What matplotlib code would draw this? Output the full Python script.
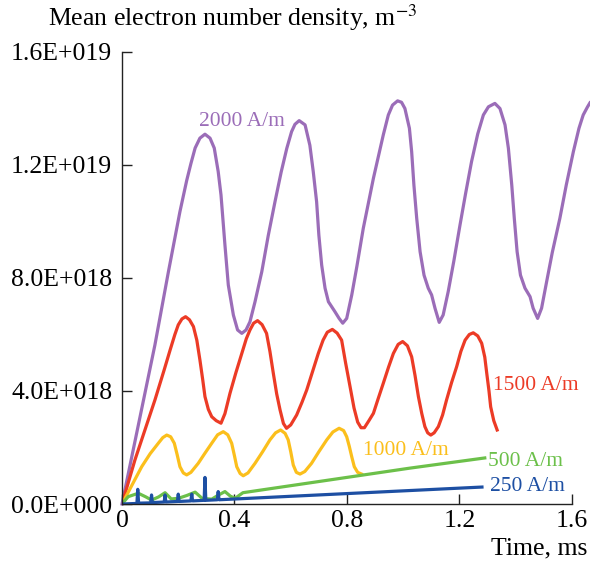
import matplotlib
matplotlib.use("Agg")
import matplotlib.pyplot as plt

plt.rcParams['font.family'] = ['Liberation Serif', 'DejaVu Serif']
plt.rcParams['mathtext.fontset'] = 'stix'

# time in ms, density in units of 1E+018 m^-3
t_2000 = [0, 0.117, 0.165, 0.206, 0.230, 0.245, 0.260, 0.277, 0.295, 0.313, 0.328, 0.342, 0.352,
          0.366, 0.378, 0.396, 0.411, 0.426, 0.441, 0.455, 0.473, 0.497, 0.520, 0.544, 0.566,
          0.586, 0.603, 0.615, 0.630, 0.651, 0.668, 0.680, 0.692, 0.700, 0.710, 0.722, 0.734,
          0.757, 0.772, 0.785, 0.799, 0.817, 0.835, 0.858, 0.894, 0.929, 0.947, 0.962, 0.980,
          0.994, 1.006, 1.022, 1.030, 1.038, 1.048, 1.060, 1.074, 1.089, 1.101, 1.113, 1.128,
          1.142, 1.160, 1.180, 1.202, 1.222, 1.243, 1.265, 1.285, 1.303, 1.326, 1.344, 1.362,
          1.374, 1.386, 1.395, 1.405, 1.417, 1.433, 1.451, 1.462, 1.478, 1.492, 1.510, 1.530,
          1.557, 1.580, 1.605, 1.625, 1.640, 1.655, 1.664]
n_2000 = [0, 5.63, 8.22, 10.35, 11.45, 12.05, 12.6, 12.95, 13.09, 12.95, 12.6, 11.77, 10.94,
          9.17, 7.75, 6.69, 6.16, 6.04, 6.16, 6.45, 7.16, 8.22, 9.5, 10.7, 11.75,
          12.59, 13.18, 13.44, 13.57, 13.42, 12.7, 11.77, 10.7, 9.52, 8.46, 7.64, 7.16,
          6.81, 6.57, 6.40, 6.57, 7.4, 8.4, 9.76, 11.53, 13.06, 13.77, 14.12, 14.27,
          14.22, 14.0, 13.3, 12.47, 11.29, 10.11, 8.93, 8.1, 7.64, 7.4, 6.93, 6.43,
          6.69, 7.52, 8.6, 9.88, 11.0, 12.12, 13.1, 13.77, 14.06, 14.18, 14.0, 13.42,
          12.59, 11.29, 10.11, 8.93, 8.1, 7.64, 7.34, 6.93, 6.57, 6.93, 7.87, 8.9,
          10.11, 11.3, 12.47, 13.3, 13.77, 14.05, 14.2]

t_1500 = [0, 0.046, 0.117, 0.150, 0.171, 0.188, 0.200, 0.213, 0.226, 0.240, 0.254, 0.266, 0.277,
          0.287, 0.295, 0.307, 0.319, 0.335, 0.352, 0.366, 0.384, 0.405, 0.426, 0.442, 0.455,
          0.468, 0.482, 0.498, 0.514, 0.526, 0.538, 0.550, 0.562, 0.574, 0.585, 0.600, 0.612,
          0.621, 0.640, 0.657, 0.678, 0.698, 0.715, 0.730, 0.748, 0.765, 0.781, 0.795, 0.811,
          0.825, 0.838, 0.850, 0.862, 0.878, 0.894, 0.910, 0.929, 0.948, 0.965, 0.982, 0.998,
          1.015, 1.030, 1.042, 1.054, 1.066, 1.077, 1.087, 1.098, 1.110, 1.125, 1.140, 1.154,
          1.172, 1.190, 1.205, 1.220, 1.235, 1.249, 1.265, 1.279, 1.290, 1.297, 1.305, 1.311,
          1.322, 1.334]
n_1500 = [0, 1.56, 3.68, 4.75, 5.45, 6.0, 6.34, 6.55, 6.63, 6.52, 6.28, 5.8, 5.1,
          4.4, 3.8, 3.35, 3.09, 2.95, 2.86, 3.2, 3.92, 4.65, 5.33, 5.85, 6.16,
          6.4, 6.49, 6.35, 6.04, 5.4, 4.63, 3.9, 3.33, 2.85, 2.68, 2.8, 3.0,
          3.15, 3.6, 4.04, 4.7, 5.33, 5.8, 6.08, 6.18, 6.05, 5.8, 5.0, 4.15,
          3.4, 2.9, 2.7, 2.7, 2.95, 3.21, 3.7, 4.27, 4.85, 5.33, 5.65, 5.75,
          5.6, 5.21, 4.55, 3.8, 3.2, 2.74, 2.52, 2.44, 2.52, 2.74, 3.15, 3.68,
          4.3, 4.86, 5.4, 5.8, 6.0, 6.06, 5.95, 5.69, 5.2, 4.63, 4.0, 3.44,
          2.95, 2.62]

t_1000 = [0, 0.070, 0.100, 0.129, 0.145, 0.159, 0.173, 0.186, 0.196, 0.206, 0.218, 0.230, 0.245,
          0.271, 0.295, 0.319, 0.340, 0.360, 0.376, 0.390, 0.400, 0.408, 0.420, 0.431, 0.448,
          0.473, 0.500, 0.526, 0.546, 0.564, 0.580, 0.591, 0.600, 0.609, 0.620, 0.633, 0.650,
          0.674, 0.700, 0.728, 0.750, 0.772, 0.788, 0.799, 0.808, 0.817, 0.826, 0.838, 0.852]
n_1000 = [0, 1.32, 1.78, 2.15, 2.35, 2.44, 2.38, 2.15, 1.75, 1.32, 1.1, 1.03, 1.12,
          1.44, 1.8, 2.15, 2.45, 2.56, 2.45, 2.15, 1.7, 1.32, 1.08, 1.0, 1.1,
          1.44, 1.85, 2.27, 2.52, 2.62, 2.5, 2.27, 1.85, 1.38, 1.12, 1.06, 1.15,
          1.44, 1.85, 2.27, 2.55, 2.68, 2.6, 2.38, 2.05, 1.67, 1.32, 1.12, 1.06]

t_500 = [0, 0.022, 0.058, 0.085, 0.105, 0.130, 0.153, 0.175, 0.200, 0.230, 0.260, 0.285, 0.319,
         0.340, 0.366, 0.385, 0.402, 0.430, 1.024, 1.290]
n_500 = [0, 0.26, 0.38, 0.25, 0.14, 0.25, 0.40, 0.18, 0.20, 0.30, 0.42, 0.20, 0.17,
         0.30, 0.44, 0.28, 0.20, 0.40, 1.27, 1.63]

t_250 = [0, 0.053, 0.056, 0.059, 0.102, 0.105, 0.108, 0.150, 0.153, 0.156, 0.197, 0.200, 0.203,
         0.245, 0.248, 0.251, 0.292, 0.295, 0.298, 0.339, 0.342, 0.345, 1.280]
n_250 = [0, 0.02, 0.52, 0.03, 0.04, 0.32, 0.05, 0.07, 0.32, 0.07, 0.09, 0.35, 0.09,
         0.11, 0.35, 0.11, 0.13, 0.94, 0.13, 0.15, 0.44, 0.15, 0.60]

x_ticks = [0, 0.4, 0.8, 1.2, 1.6]
x_tick_labels = ["0", "0.4", "0.8", "1.2", "1.6"]
y_ticks = [0, 4, 8, 12, 16]
y_tick_labels = ["0.0E+000", "4.0E+018", "8.0E+018", "1.2E+019", "1.6E+019"]

c_2000 = '#9b6db8'
c_1500 = '#ec3b26'
c_1000 = '#fbbf1c'
c_500 = '#6cc04a'
c_250 = '#1d4fa3'

fig = plt.figure(figsize=(5.9, 5.62), dpi=100)
ax = fig.add_axes([0.2068, 0.1032, 0.7912, 0.8043])

lw = 2.3
ax.plot(t_2000, n_2000, color=c_2000, lw=lw, clip_on=False, solid_joinstyle='round')
ax.plot(t_1500, n_1500, color=c_1500, lw=lw, solid_joinstyle='round')
ax.plot(t_1000, n_1000, color=c_1000, lw=lw, solid_joinstyle='round')
ax.plot(t_500, n_500, color=c_500, lw=lw, solid_joinstyle='round')
ax.plot(t_250, n_250, color=c_250, lw=lw, solid_joinstyle='round')

fs = 18.5
lfs = 15.5
ax.text(0.427, 13.55, "2000 A/m", color=c_2000, fontsize=lfs, ha='center', va='center')
ax.text(1.319, 4.2, "1500 A/m", color=c_1500, fontsize=lfs, ha='left', va='center')
ax.text(0.857, 1.9, "1000 A/m", color=c_1000, fontsize=lfs, ha='left', va='center')
ax.text(1.301, 1.5, "500 A/m", color=c_500, fontsize=lfs, ha='left', va='center')
ax.text(1.308, 0.62, "250 A/m", color=c_250, fontsize=lfs, ha='left', va='center')

ax.set_xlim(0, 1.66)
ax.set_ylim(0, 16)
ax.set_xticks(x_ticks)
ax.set_xticklabels(x_tick_labels)
ax.set_yticks(y_ticks)
ax.set_yticklabels(y_tick_labels)
ax.tick_params(direction='in', length=7, width=1, labelsize=fs, color='#222222')
ax.tick_params(axis='y', pad=7)
ax.tick_params(axis='x', pad=4)

for s in ['top', 'right']:
    ax.spines[s].set_visible(False)
ax.spines['left'].set_bounds(0, 16)
ax.spines['bottom'].set_bounds(0, 1.6)
for s in ['left', 'bottom']:
    ax.spines[s].set_color('#222222')
    ax.spines[s].set_linewidth(1)

fig.text(48 / 590, 1 - 18 / 562, "Mean electron number density, m$^{-3}$", fontsize=fs,
         ha='left', va='center')
fig.text(587 / 590, 1 - 548 / 562, "Time, ms", fontsize=fs, ha='right', va='center')

fig.savefig("out.png", dpi=100)
